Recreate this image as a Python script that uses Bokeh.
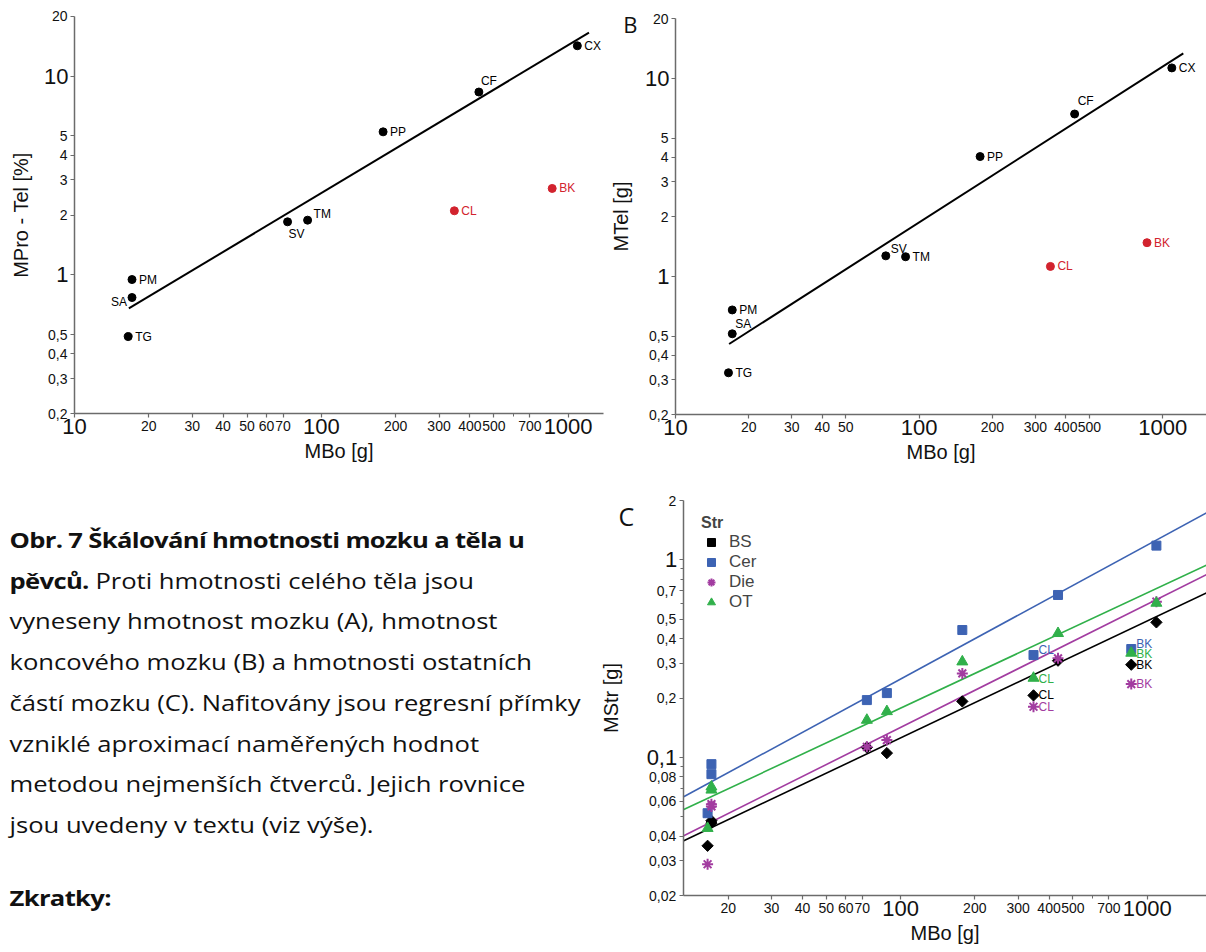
import numpy as np
from bokeh.plotting import figure
from bokeh.models import Range1d, FixedTicker, LogAxis, ColumnDataSource, Div
from bokeh.layouts import column, row
from bokeh.embed import file_html
from bokeh.resources import INLINE
from bokeh.core.properties import value

# ---------------- data ----------------
species = ["TG", "SA", "PM", "SV", "TM", "PP", "CF", "CL", "BK", "CX"]
mbo = [16.5, 17.1, 17.1, 73.0, 88.0, 178.0, 435.0, 346.0, 862.0, 1090.0]
mpro_tel = [0.489, 0.769, 0.947, 1.848, 1.884, 5.24, 8.31, 2.10, 2.72, 14.2]
mtel = [0.326, 0.513, 0.677, 1.27, 1.257, 4.03, 6.61, 1.123, 1.48, 11.3]
outliers = ["CL", "BK"]

structures = ["BS", "Cer", "Die", "OT"]
m_bs = [0.0357, 0.0465, 0.0478, 0.1124, 0.1052, 0.1922, 0.309, 0.2062, 0.2949, 0.483]
m_cer = [0.0522, 0.0823, 0.0925, 0.1952, 0.2118, 0.4418, 0.6648, 0.330, 0.354, 1.182]
m_die = [0.0288, 0.0565, 0.0580, 0.1132, 0.1224, 0.2665, 0.3175, 0.1806, 0.2352, 0.615]
m_ot = [0.0438, 0.0685, 0.0710, 0.1546, 0.171, 0.3053, 0.425, 0.2523, 0.3378, 0.605]

# least-squares lines: log10(y) = a + b*log10(x)
fit_a = (-1.077, 0.7441)
fit_b = (-1.302, 0.7873)
fit_c = {"BS": (-2.086, 0.5924), "Cer": (-1.959, 0.678), "Die": (-2.096, 0.624), "OT": (-1.918, 0.5838)}
fit_span_ab = (16.6, 1215.0)

# axis extents (data units)
axis_ab_x = (10, 1391)
axis_b_x = (10, 1514)
axis_ab_y = (0.2, 20)
axis_c_x = (13.14, 1740)
axis_c_y = (0.02, 2)

ab_xticks = [10, 20, 30, 40, 50, 60, 70, 100, 200, 300, 400, 500, 700, 1000]
ab_xminor = [600]
b_xticks = [10, 20, 30, 40, 50, 100, 200, 300, 400, 500, 1000]
c_xticks = [20, 30, 40, 50, 60, 70, 100, 200, 300, 400, 500, 700, 1000]
c_xminor = [600]
big_x = [10, 100, 1000]
ab_yticks = [0.2, 0.3, 0.4, 0.5, 1, 2, 3, 4, 5, 10, 20]
ab_ybig = [1, 10]
c_yticks = [0.02, 0.03, 0.04, 0.06, 0.08, 0.1, 0.2, 0.3, 0.4, 0.5, 0.7, 1, 2]
c_yminor = [0.05, 0.07, 0.09, 0.6, 0.8, 0.9]
c_ybig = [0.1, 1]

caption_bold1 = "Obr. 7 Škálování hmotnosti mozku a těla u"
caption_bold2 = "pěvců."
caption_lines = [" Proti hmotnosti celého těla jsou",
                 "vyneseny hmotnost mozku (A), hmotnost",
                 "koncového mozku (B) a hmotnosti ostatních",
                 "částí mozku (C). Nafitovány jsou regresní přímky",
                 "vzniklé aproximací naměřených hodnot",
                 "metodou nejmenších čtverců. Jejich rovnice",
                 "jsou uvedeny v textu (viz výše)."]
abbrev = "Zkratky:"

# ---------------- styles / geometry ----------------
FONT = "Liberation Sans"
AXC = "#6b6b6b"
RED = "#d2232e"
COLORS = {"BS": "#000000", "Cer": "#3d63b3", "Die": "#a23ca0", "OT": "#30b04a"}
MARKERS = {"BS": "square", "Cer": "square", "Die": "asterisk", "OT": "triangle"}
MANGLE = {"BS": np.pi / 4, "Cer": 0, "Die": 0, "OT": 0}
MSIZE = {"BS": 8, "Cer": 9, "Die": 11, "OT": 11}
LBL_A = {"TG": (7, 0), "SA": (-21, 4), "PM": (7, 0), "SV": (1, 12), "TM": (6, -6),
         "PP": (7, 0), "CF": (2, -11), "CL": (7, 0), "BK": (7, 0), "CX": (7, 0)}
LBL_B = {"TG": (7, 0), "SA": (3, -10), "PM": (7, 0), "SV": (5, -7), "TM": (7, 0),
         "PP": (7, 0), "CF": (3, -13), "CL": (7, 0), "BK": (7, 0), "CX": (7, 0)}
LBL_C_DY = {"BS": 0, "Cer": -5, "Die": 0, "OT": 1}
# figure size, pixel of a reference tick (from left / from top) and pixels per decade
GEOM = {
    "A": dict(w=604, h=470, xref=(10, 74.0), xdec=246.8, yref=(20, 15.7), ydec=198.8),
    "B": dict(w=602, h=470, xref=(10, 71.0), xdec=243.6, yref=(20, 18.3), ydec=198.0),
    "C": dict(w=608, h=482, xref=(20, 129.7), xdec=246.6, yref=(2, 30.0), ydec=197.5),
}


def fmt(v):
    return f"{v:g}".replace(".", ",")


def ranges(g):
    xlo = np.log10(g["xref"][0]) - g["xref"][1] / g["xdec"]
    xhi = xlo + g["w"] / g["xdec"]
    yhi = np.log10(g["yref"][0]) + g["yref"][1] / g["ydec"]
    ylo = yhi - g["h"] / g["ydec"]
    return (10 ** xlo, 10 ** xhi), (10 ** ylo, 10 ** yhi)


def plain_axis(ax, size, font=FONT, standoff=5):
    ax.axis_line_color = None
    ax.major_tick_line_color = None
    ax.minor_tick_line_color = None
    ax.major_tick_out = 0
    ax.major_tick_in = 0
    ax.major_label_standoff = standoff
    ax.major_label_text_font = font
    ax.major_label_text_font_size = size
    ax.major_label_text_color = "#111111"


def make_fig(g, xbounds, ybounds, xlabel, ylabel,
             xticks, xminor, xbig, yticks, yminor, ybig, ylab_standoff):
    xr, yr = ranges(g)
    p = figure(width=g["w"], height=g["h"], x_axis_type="log", y_axis_type="log",
               x_range=Range1d(*xr), y_range=Range1d(*yr),
               output_backend="svg", toolbar_location=None, title=None,
               min_border=0, min_border_left=0, min_border_right=0,
               min_border_top=0, min_border_bottom=0)
    p.grid.visible = False
    p.outline_line_color = None
    p.background_fill_color = "white"
    p.border_fill_color = "white"
    p.xaxis.fixed_location = ybounds[0]
    p.yaxis.fixed_location = xbounds[0]
    p.xaxis.bounds = xbounds
    p.yaxis.bounds = ybounds
    p.xaxis.ticker = FixedTicker(ticks=xticks, minor_ticks=xminor)
    p.yaxis.ticker = FixedTicker(ticks=yticks, minor_ticks=yminor)
    p.xaxis.major_label_overrides = {t: ("" if t in xbig else fmt(t)) for t in xticks}
    p.yaxis.major_label_overrides = {t: ("" if t in ybig else fmt(t)) for t in yticks}
    p.xaxis.axis_label = xlabel
    p.yaxis.axis_label = ylabel
    for ax in p.axis:
        ax.axis_line_color = AXC
        ax.axis_line_width = 1.5
        ax.major_tick_line_color = AXC
        ax.major_tick_line_width = 1.2
        ax.major_tick_in = 0
        ax.major_tick_out = 4
        ax.minor_tick_line_color = AXC
        ax.minor_tick_in = 0
        ax.minor_tick_out = 3
        ax.major_label_standoff = 3
        ax.major_label_text_font = FONT
        ax.major_label_text_font_size = "14px"
        ax.major_label_text_color = "#111111"
        ax.axis_label_text_font = FONT
        ax.axis_label_text_font_size = "20px"
        ax.axis_label_text_font_style = "normal"
        ax.axis_label_text_color = "#111111"
    p.xaxis.axis_label_standoff = 6
    p.yaxis.axis_label_standoff = ylab_standoff
    # larger decade labels, drawn by extra axes pinned at the same place
    bx_ticks = [t for t in xbig if t >= xbounds[0]]
    bx = LogAxis(ticker=FixedTicker(ticks=bx_ticks), fixed_location=ybounds[0])
    bx.major_label_overrides = {t: fmt(t) for t in bx_ticks}
    plain_axis(bx, "22px", standoff=5)
    p.add_layout(bx, "below")
    by = LogAxis(ticker=FixedTicker(ticks=ybig), fixed_location=xbounds[0])
    by.major_label_overrides = {t: fmt(t) for t in ybig}
    plain_axis(by, "22px", standoff=6)
    p.add_layout(by, "left")
    return p


def panel_letter(p, xpos, letter, ypos, standoff, size):
    ax = LogAxis(ticker=FixedTicker(ticks=[ypos]), fixed_location=xpos)
    ax.major_label_overrides = {ypos: letter}
    plain_axis(ax, size, font="Open Sans", standoff=standoff)
    p.add_layout(ax, "left")


def add_species(p, yvals, fit, lbl):
    xs = np.array(fit_span_ab)
    ys = 10 ** (fit[0] + fit[1] * np.log10(xs))
    p.line(xs, ys, line_color="black", line_width=2)
    cols = [RED if s in outliers else "black" for s in species]
    src = ColumnDataSource(dict(x=mbo, y=yvals, s=species, c=cols,
                                dx=[lbl[s][0] for s in species],
                                dy=[lbl[s][1] for s in species]))
    p.scatter("x", "y", source=src, size=8, color="c")
    p.text("x", "y", text="s", source=src, x_offset="dx", y_offset="dy",
           text_color="c", text_font=value(FONT), text_font_size="12px",
           text_baseline="middle", text_align="left")


# ---------------- panel A ----------------
pA = make_fig(GEOM["A"], axis_ab_x, axis_ab_y, "MBo [g]", "MPro - Tel [%]",
              ab_xticks, ab_xminor, big_x, ab_yticks, [], ab_ybig, 13)
add_species(pA, mpro_tel, fit_a, LBL_A)

# ---------------- panel B ----------------
pB = make_fig(GEOM["B"], axis_b_x, axis_ab_y, "MBo [g]", "MTel [g]",
              b_xticks, [], big_x, ab_yticks, [], ab_ybig, 14)
add_species(pB, mtel, fit_b, LBL_B)
panel_letter(pB, axis_b_x[0], "B", 18.9, 38, "22px")

# ---------------- panel C ----------------
pC = make_fig(GEOM["C"], axis_c_x, axis_c_y, "MBo [g]", "MStr [g]",
              c_xticks, c_xminor, big_x, c_yticks, c_yminor, c_ybig, 24)
panel_letter(pC, axis_c_x[0], "C", 1.66, 49, "25px")
series = {"BS": m_bs, "Cer": m_cer, "Die": m_die, "OT": m_ot}
xs_c = np.array(axis_c_x)
for name in structures:
    a, b = fit_c[name]
    pC.line(xs_c, 10 ** (a + b * np.log10(xs_c)), line_color=COLORS[name], line_width=1.6)
for name in structures:
    src = ColumnDataSource(dict(x=mbo, y=series[name], s=species))
    pC.scatter("x", "y", source=src, marker=MARKERS[name], size=MSIZE[name],
               angle=MANGLE[name], color=COLORS[name],
               line_width=2 if name == "Die" else 1, legend_label=name)
    idx = [i for i, s in enumerate(species) if s in outliers]
    lsrc = ColumnDataSource(dict(x=[mbo[i] for i in idx],
                                 y=[series[name][i] for i in idx],
                                 s=[species[i] for i in idx]))
    pC.text("x", "y", text="s", source=lsrc, x_offset=5, y_offset=LBL_C_DY[name],
            text_color=COLORS[name], text_font=value(FONT), text_font_size="12px",
            text_baseline="middle", text_align="left")

lg = pC.legend[0]
lg.title = "Str"
lg.title_text_font = FONT
lg.title_text_font_style = "bold"
lg.title_text_font_size = "16px"
lg.title_standoff = 0
lg.location = (97, 334)
lg.margin = 0
lg.padding = 6
lg.spacing = 0
lg.label_text_font = FONT
lg.label_text_font_size = "17px"
lg.label_height = 20
lg.glyph_height = 20
lg.glyph_width = 20
lg.label_standoff = 8
lg.background_fill_alpha = 0
lg.border_line_alpha = 0

# ---------------- caption ----------------
STYLE = ("font-family:'Open Sans',sans-serif;font-size:21.5px;line-height:40.7px;"
         "color:#111;white-space:nowrap;padding-left:8px;"
         "transform:scaleX(1.19);transform-origin:0 0;")
BSTYLE = "letter-spacing:-0.55px;"
lines_html = "<br>".join(caption_lines[1:])
html = (
    f"<div style=\"{STYLE}margin-top:50px;\">"
    f"<b style=\"{BSTYLE}\">{caption_bold1}</b><br>"
    f"<b style=\"{BSTYLE}\">{caption_bold2}</b>{caption_lines[0]}<br>{lines_html}"
    "</div>"
    f"<div style=\"{STYLE}margin-top:32px;\"><b style=\"{BSTYLE}\">{abbrev}</b></div>"
)
div = Div(text=html, width=598, height=482, margin=(0, 0, 0, 0))

layout = column(row(pA, pB), row(div, pC))
open("out.html", "w").write(file_html(layout, INLINE))
